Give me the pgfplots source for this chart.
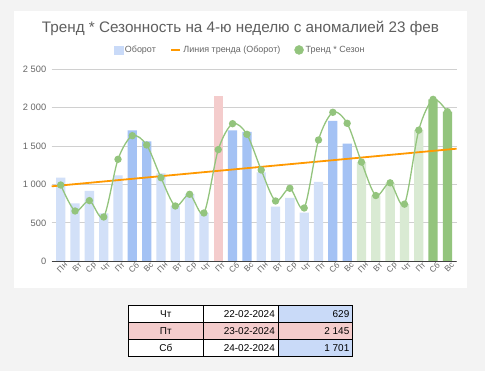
\documentclass[border=0pt]{standalone}
\usepackage{pgfplots}
\pgfplotsset{compat=1.18}
\usepackage{fontspec}
\setmainfont{Liberation Sans}
\definecolor{bgc}{HTML}{F3F3F3}
\definecolor{titlec}{HTML}{5F5F5F}
\definecolor{lblue}{HTML}{D2E0F8}
\definecolor{dblue}{HTML}{A4C2F4}
\definecolor{pinkc}{HTML}{F4CCCC}
\definecolor{lgreen}{HTML}{D9EAD3}
\definecolor{dgreen}{HTML}{93C47D}
\definecolor{orangec}{HTML}{FF9900}
\definecolor{gridc}{HTML}{D0D0D0}
\definecolor{cellblue}{HTML}{C9DAF8}
\definecolor{tickc}{HTML}{666666}
\begin{document}
\begin{tikzpicture}[x=1bp,y=1bp]
\fill[bgc] (0,0) rectangle (485,371);
\fill[white] (14,83) rectangle (467,360);
\node[text=titlec, font=\fontsize{15.3}{17}\selectfont] at (240.5,343) {Тренд * Сезонность на 4-ю неделю с аномалией 23 фев};
\begin{axis}[
  at={(51.7bp,109.7bp)}, anchor=south west,
  scale only axis, width=405bp, height=192.3bp,
  xmin=-0.63, xmax=27.65, ymin=0, ymax=2500,
  axis line style={draw=none},
  major tick length=0pt,
  ymajorgrids, grid style={gridc, line width=0.8bp},
  ytick={0,500,1000,1500,2000,2500},
  yticklabels={0,500,1 000,1 500,2 000,2 500},
  xtick={0,...,27},
  xticklabels={Пн,Вт,Ср,Чт,Пт,Сб,Вс,Пн,Вт,Ср,Чт,Пт,Сб,Вс,Пн,Вт,Ср,Чт,Пт,Сб,Вс,Пн,Вт,Ср,Чт,Пт,Сб,Вс},
  yticklabel style={font=\fontsize{9.3}{10}\selectfont, text=tickc, xshift=-2bp},
  xticklabel style={font=\fontsize{8.3}{9}\selectfont, text=tickc, rotate=45, anchor=north east, inner sep=0.8bp, xshift=3bp, yshift=-1.5bp},
  legend style={at={(0.465,1.099)}, anchor=center, draw=none, fill=none,
    font=\fontsize{9}{10}\selectfont, text=tickc, legend columns=3,
    /tikz/every even column/.append style={column sep=12bp}},
  legend cell align=left,
]
\addlegendimage{legend image code/.code={\fill[cellblue] (0bp,-4bp) rectangle (9bp,4bp);}}
\addlegendentry{Оборот}
\addlegendimage{legend image code/.code={\draw[orangec, line width=2.6bp] (0bp,0bp) -- (9bp,0bp);}}
\addlegendentry{Линия тренда (Оборот)}
\addlegendimage{legend image code/.code={\fill[dgreen] (4.5bp,0bp) circle (4.5bp);}}
\addlegendentry{Тренд * Сезон}

\addplot[ybar, bar width=9.3bp, bar shift=0pt, fill=lblue, draw=none, forget plot] coordinates {
(0,1087) (1,754) (2,914) (3,624) (4,1118)
(7,1144) (8,720) (9,875) (10,629)
(14,1157) (15,711) (16,823) (17,633) (18,1031)};
\addplot[ybar, bar width=9.3bp, bar shift=0pt, fill=dblue, draw=none, forget plot] coordinates {
(5,1703) (6,1560) (12,1701) (13,1681) (19,1824) (20,1529)};
\addplot[ybar, bar width=9.3bp, bar shift=0pt, fill=pinkc, draw=none, forget plot] coordinates {
(11,2145)};
\addplot[ybar, bar width=9.3bp, bar shift=0pt, fill=lgreen, draw=none, forget plot] coordinates {
(21,1290) (22,855) (23,1020) (24,743) (25,1705)};
\addplot[ybar, bar width=9.3bp, bar shift=0pt, fill=dgreen, draw=none, forget plot] coordinates {
(26,2105) (27,1945)};

\addplot[orangec, line width=1.8bp, forget plot] coordinates {(-0.63,975) (27.65,1464)};

\addplot[dgreen, line width=1.3bp, smooth, tension=0.5, mark=*, mark size=3bp, mark options={fill=dgreen, draw=dgreen}, forget plot] coordinates {
(0,992) (1,654) (2,789) (3,576) (4,1326) (5,1633) (6,1512)
(7,1087) (8,719) (9,871) (10,628) (11,1452) (12,1789) (13,1651)
(14,1187) (15,784) (16,949) (17,693) (18,1577) (19,1937) (20,1794)
(21,1290) (22,855) (23,1020) (24,743) (25,1705) (26,2105) (27,1945)};

\addplot[color={black!75}, line width=1bp, forget plot] coordinates {(-0.63,0) (27.65,0)};
\end{axis}
% table
\fill[white] (128.3,15) rectangle (352.3,66);
\fill[cellblue] (278.7,49) rectangle (352.3,66);
\fill[pinkc] (128.3,32) rectangle (352.3,49);
\fill[cellblue] (278.7,15) rectangle (352.3,32);
\draw[black, line width=0.6bp] (128.3,15) rectangle (352.3,66);
\draw[black, line width=0.6bp] (128.3,32) -- (352.3,32) (128.3,49) -- (352.3,49)
  (203.3,15) -- (203.3,66) (278.7,15) -- (278.7,66);
\begin{scope}[every node/.style={inner sep=0pt, font=\fontsize{10}{12}\selectfont}]
\node[anchor=base] at (165.8,53.8) {Чт};
\node[anchor=base east] at (275,53.8) {22-02-2024};
\node[anchor=base east] at (349.5,53.8) {629};
\node[anchor=base] at (165.8,36.8) {Пт};
\node[anchor=base east] at (275,36.8) {23-02-2024};
\node[anchor=base east] at (349.5,36.8) {2 145};
\node[anchor=base] at (165.8,19.8) {Сб};
\node[anchor=base east] at (275,19.8) {24-02-2024};
\node[anchor=base east] at (349.5,19.8) {1 701};
\end{scope}
\end{tikzpicture}
\end{document}
